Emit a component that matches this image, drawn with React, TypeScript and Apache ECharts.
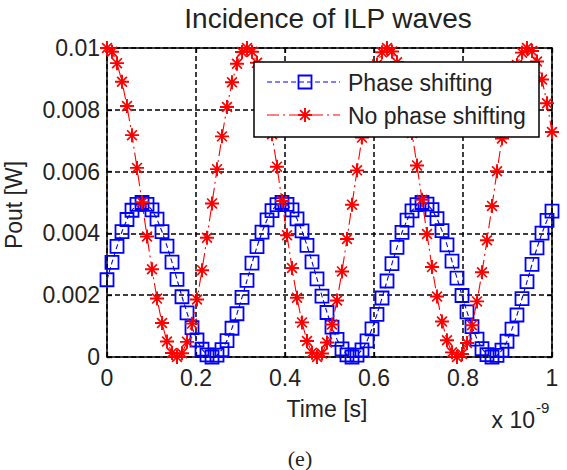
import React, { useEffect, useRef } from "react";
import * as echarts from "echarts";

// Time samples in units of 1e-9 s
const timeNs = [
  0, 0.0112, 0.0225, 0.0337, 0.0449, 0.0562, 0.0674, 0.0787, 0.0899, 0.1011,
  0.1124, 0.1236, 0.1348, 0.1461, 0.1573, 0.1685, 0.1798, 0.191, 0.2022, 0.2135,
  0.2247, 0.236, 0.2472, 0.2584, 0.2697, 0.2809, 0.2921, 0.3034, 0.3146, 0.3258,
  0.3371, 0.3483, 0.3596, 0.3708, 0.382, 0.3933, 0.4045, 0.4157, 0.427, 0.4382,
  0.4494, 0.4607, 0.4719, 0.4831, 0.4944, 0.5056, 0.5169, 0.5281, 0.5393, 0.5506,
  0.5618, 0.573, 0.5843, 0.5955, 0.6067, 0.618, 0.6292, 0.6404, 0.6517, 0.6629,
  0.6742, 0.6854, 0.6966, 0.7079, 0.7191, 0.7303, 0.7416, 0.7528, 0.764, 0.7753,
  0.7865, 0.7978, 0.809, 0.8202, 0.8315, 0.8427, 0.8539, 0.8652, 0.8764, 0.8876,
  0.8989, 0.9101, 0.9213, 0.9326, 0.9438, 0.9551, 0.9663, 0.9775, 0.9888, 1,
];

// Output power [W] with phase shifting
const phaseShifting = [
  0.0025, 0.00306, 0.00358, 0.00406, 0.00445, 0.00475, 0.00494, 0.005, 0.00494, 0.00476,
  0.00446, 0.00406, 0.00359, 0.00307, 0.00251, 0.00195, 0.00143, 0.00095, 0.00055, 0.00025,
  0.00007, 0, 0.00006, 0.00024, 0.00053, 0.00093, 0.0014, 0.00193, 0.00248, 0.00304,
  0.00357, 0.00404, 0.00444, 0.00474, 0.00493, 0.005, 0.00494, 0.00476, 0.00447, 0.00408,
  0.00361, 0.00308, 0.00253, 0.00197, 0.00144, 0.00097, 0.00057, 0.00026, 0.00007, 0,
  0.00006, 0.00023, 0.00052, 0.00091, 0.00138, 0.00191, 0.00246, 0.00302, 0.00355, 0.00403,
  0.00443, 0.00473, 0.00493, 0.005, 0.00495, 0.00477, 0.00448, 0.00409, 0.00363, 0.0031,
  0.00255, 0.00199, 0.00146, 0.00098, 0.00058, 0.00027, 0.00008, 0, 0.00005, 0.00022,
  0.00051, 0.0009, 0.00136, 0.00189, 0.00244, 0.003, 0.00353, 0.00401, 0.00442, 0.00472,
];

// Output power [W] without phase shifting
const noPhaseShifting = [
  0.01, 0.00988, 0.00951, 0.00891, 0.00812, 0.00718, 0.00612, 0.00501, 0.0039, 0.00284,
  0.00189, 0.0011, 0.0005, 0.00013, 0, 0.00012, 0.00049, 0.00108, 0.00186, 0.00281,
  0.00386, 0.00497, 0.00608, 0.00714, 0.00809, 0.00889, 0.00949, 0.00987, 0.01, 0.00988,
  0.00952, 0.00894, 0.00815, 0.00721, 0.00616, 0.00505, 0.00394, 0.00288, 0.00192, 0.00112,
  0.00052, 0.00014, 0, 0.00011, 0.00047, 0.00105, 0.00183, 0.00277, 0.00382, 0.00493,
  0.00604, 0.0071, 0.00806, 0.00886, 0.00947, 0.00986, 0.01, 0.00989, 0.00954, 0.00896,
  0.00818, 0.00725, 0.0062, 0.00509, 0.00398, 0.00291, 0.00196, 0.00115, 0.00054, 0.00015,
  0, 0.0001, 0.00045, 0.00103, 0.0018, 0.00274, 0.00378, 0.00489, 0.00601, 0.00707,
  0.00803, 0.00884, 0.00945, 0.00985, 0.01, 0.0099, 0.00956, 0.00898, 0.00821, 0.00728,
];

const xTickLabels = ["0", "0.2", "0.4", "0.6", "0.8", "1"];
const yTickLabels = ["0", "0.002", "0.004", "0.006", "0.008", "0.01"];
const seriesNames = ["Phase shifting", "No phase shifting"];

const FONT = '"Liberation Sans", Arial, Helvetica, sans-serif';
const TEXT = "#222222";
const BLUE = "#0000ff";
const RED = "#ff0000";

// Asterisk marker: horizontal, vertical and two diagonal bars in a 20x20 box
const ASTERISK =
  "M0,8.6L20,8.6L20,11.4L0,11.4Z M8.6,0L11.4,0L11.4,20L8.6,20Z " +
  "M2.15,3.85L3.85,2.15L17.85,16.15L16.15,17.85Z M16.15,2.15L17.85,3.85L3.85,17.85L2.15,16.15Z " +
  "M7.5,7.5L12.5,7.5L12.5,12.5L7.5,12.5Z";

echarts.graphic.registerShape("asterisk", echarts.graphic.extendPath(ASTERISK, {}));

const STAR_SIZE = 14;
const SQUARE_SIZE = 13;
const LEGEND_Z = 100;

function boxAxis(kind: "x" | "y", position: string, showLabels: boolean) {
  const isX = kind === "x";
  const labels = isX ? xTickLabels : yTickLabels;
  const step = isX ? 0.2 : 0.002;
  return {
    type: "value",
    position,
    min: 0,
    max: isX ? 1 : 0.01,
    interval: step,
    axisLine: { show: true, onZero: false, lineStyle: { color: "#000", width: 1.5 } },
    axisTick: { show: true, inside: true, length: 5, lineStyle: { color: "#000", width: 1.3 } },
    axisLabel: {
      show: showLabels,
      margin: isX ? 9 : 7,
      fontSize: 23,
      fontFamily: FONT,
      color: TEXT,
      formatter: (v: number) => labels[Math.round(v / step)] ?? "",
    },
    splitLine: {
      show: showLabels,
      lineStyle: { color: "#000", type: [5, 3], width: 1.5 },
    },
  };
}

export default function App() {
  const ref = useRef<HTMLDivElement>(null);

  useEffect(() => {
    if (!ref.current) return;
    const chart = echarts.init(ref.current, undefined, { renderer: "svg" });

    const bluePoints = timeNs.map((t, i) => [t, phaseShifting[i]]);
    const redPoints = timeNs.map((t, i) => [t, noPhaseShifting[i]]);

    const legendX = 254;
    const legendY = 62;
    const legendW = 285;
    const legendH = 75;
    const rowY = [82, 115];
    const sampleX1 = 267;
    const sampleX2 = 340;
    const sampleMid = 305;

    const legendText = (text: string, y: number) => ({
      type: "text",
      z: LEGEND_Z + 2,
      x: 348,
      y,
      style: {
        text,
        fontSize: 23,
        fontFamily: FONT,
        fill: TEXT,
        align: "left",
        verticalAlign: "middle",
      },
    });

    chart.setOption({
      animation: false,
      backgroundColor: "#ffffff",
      grid: { left: 107, right: 15, top: 48, bottom: 113, containLabel: false },
      xAxis: [boxAxis("x", "bottom", true), boxAxis("x", "top", false)],
      yAxis: [boxAxis("y", "left", true), boxAxis("y", "right", false)],
      series: [
        {
          name: seriesNames[0],
          type: "line",
          data: bluePoints,
          clip: false,
          symbol: "rect",
          symbolSize: SQUARE_SIZE,
          showAllSymbol: true,
          itemStyle: { color: "rgba(0,0,0,0)", borderColor: BLUE, borderWidth: 1.8 },
          lineStyle: { color: BLUE, width: 1.1, type: [5, 3] },
          z: 3,
        },
        {
          name: seriesNames[1],
          type: "line",
          data: redPoints,
          clip: false,
          symbol: "path://" + ASTERISK,
          symbolSize: STAR_SIZE,
          showAllSymbol: true,
          itemStyle: { color: RED },
          lineStyle: { color: RED, width: 1.1, type: [12, 4, 2, 4] },
          z: 4,
        },
      ],
      graphic: [
        {
          type: "text",
          x: 328,
          y: 18.5,
          style: {
            text: "Incidence of ILP waves",
            fontSize: 28,
            fontFamily: FONT,
            fill: TEXT,
            align: "center",
            verticalAlign: "middle",
          },
        },
        {
          type: "text",
          x: 327,
          y: 408.5,
          style: {
            text: "Time [s]",
            fontSize: 23,
            fontFamily: FONT,
            fill: TEXT,
            align: "center",
            verticalAlign: "middle",
          },
        },
        {
          type: "text",
          x: 535,
          y: 420,
          style: {
            text: "x 10",
            fontSize: 23,
            fontFamily: FONT,
            fill: TEXT,
            align: "right",
            verticalAlign: "middle",
          },
        },
        {
          type: "text",
          x: 536,
          y: 407,
          style: {
            text: "-9",
            fontSize: 15,
            fontFamily: FONT,
            fill: TEXT,
            align: "left",
            verticalAlign: "middle",
          },
        },
        {
          type: "text",
          x: 14,
          y: 205,
          rotation: Math.PI / 2,
          style: {
            text: "Pout [W]",
            fontSize: 23,
            fontFamily: FONT,
            fill: TEXT,
            align: "center",
            verticalAlign: "middle",
          },
        },
        {
          type: "text",
          x: 300,
          y: 469,
          style: {
            text: "(e)",
            fontSize: 22,
            fontFamily: '"Liberation Serif", "Times New Roman", serif',
            fill: TEXT,
            align: "center",
            verticalAlign: "bottom",
          },
        },
        {
          type: "rect",
          z: LEGEND_Z,
          shape: { x: legendX, y: legendY, width: legendW, height: legendH },
          style: { fill: "#ffffff", stroke: "#000", lineWidth: 1.5 },
        },
        {
          type: "line",
          z: LEGEND_Z + 1,
          shape: { x1: sampleX1, y1: rowY[0], x2: sampleX2, y2: rowY[0] },
          style: { stroke: BLUE, lineWidth: 1.1, lineDash: [5, 3] },
        },
        {
          type: "rect",
          z: LEGEND_Z + 2,
          shape: {
            x: sampleMid - SQUARE_SIZE / 2,
            y: rowY[0] - SQUARE_SIZE / 2,
            width: SQUARE_SIZE,
            height: SQUARE_SIZE,
          },
          style: { fill: "none", stroke: BLUE, lineWidth: 1.8 },
        },
        {
          type: "line",
          z: LEGEND_Z + 1,
          shape: { x1: sampleX1, y1: rowY[1], x2: sampleX2, y2: rowY[1] },
          style: { stroke: RED, lineWidth: 1.1, lineDash: [12, 4, 2, 4] },
        },
        {
          type: "asterisk",
          z: LEGEND_Z + 2,
          x: sampleMid - STAR_SIZE / 2,
          y: rowY[1] - STAR_SIZE / 2,
          scaleX: STAR_SIZE / 20,
          scaleY: STAR_SIZE / 20,
          style: { fill: RED },
        },
        legendText(seriesNames[0], rowY[0] + 1),
        legendText(seriesNames[1], rowY[1] + 1),
      ],
    });

    return () => chart.dispose();
  }, []);

  return (
    <div
      ref={ref}
      style={{ position: "fixed", left: 0, top: 0, width: 567, height: 470, background: "#fff" }}
    />
  );
}
